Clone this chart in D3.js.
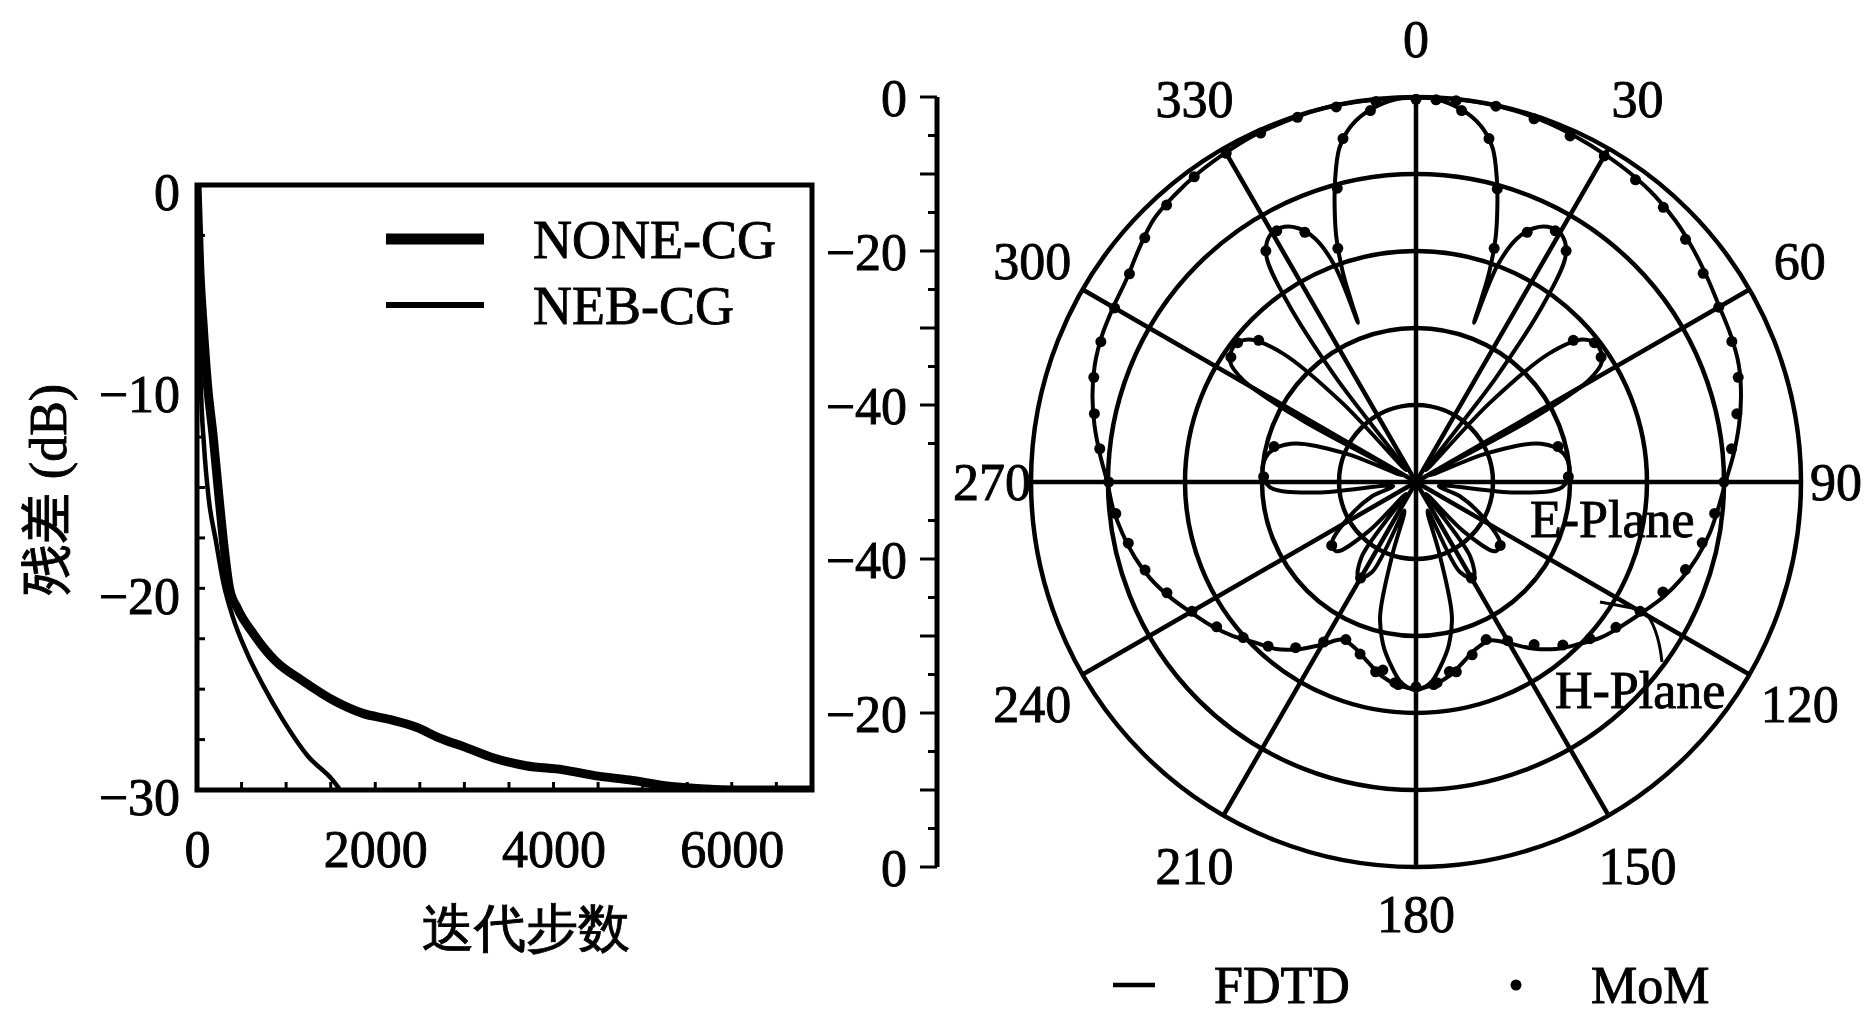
<!DOCTYPE html>
<html>
<head>
<meta charset="utf-8">
<script src="https://cdn.jsdelivr.net/npm/d3@7"></script>
<style>
  html, body { margin: 0; padding: 0; background: #fff; }
  svg { display: block; }
  text { font-family: "Liberation Serif", "DejaVu Serif", serif; fill: #000; stroke: #000; stroke-width: 0.9px; }
</style>
</head>
<body>
<svg id="chart" width="1876" height="1016"></svg>
<script>
// ---- residual chart data (iteration steps, dB) ----
const noneSteps = [0, 30, 70, 120, 180, 245, 305, 365, 455, 640, 880, 1190, 1550, 1860, 2160, 2470, 2710, 3020, 3320, 3690, 4110, 4480, 4850, 5270, 5700, 6000, 6900];
const noneDb = [0, -4, -7, -10, -12.4, -15.4, -18, -20, -21, -22.3, -23.6, -24.6, -25.6, -26.2, -26.5, -26.9, -27.4, -27.9, -28.4, -28.8, -29.0, -29.3, -29.5, -29.8, -29.95, -30, -30];
const nebSteps = [0, 20, 40, 80, 130, 210, 300, 400, 560, 740, 960, 1240, 1520, 1640];
const nebDb = [0, -5, -9.5, -13, -15.5, -17.6, -19.8, -21.4, -23.2, -24.8, -26.5, -28.3, -29.5, -30.2];
const xTickLabels = [0, 2000, 4000, 6000];
const yTickLabels = [0, -10, -20, -30];
const legendNames = ["NONE-CG", "NEB-CG"];

// ---- radiation pattern data (degrees, dB) ----
// broad pattern, FDTD every 5 deg
const eAngle = [0, 5, 10, 15, 20, 25, 30, 35, 40, 45, 50, 55, 60, 65, 70, 75, 80, 85, 90, 95, 100, 105, 110, 115, 120, 125, 130, 135, 140, 145, 150, 155, 160, 165, 170, 175, 180, 185, 190, 195, 200, 205, 210, 215, 220, 225, 230, 235, 240, 245, 250, 255, 260, 265, 270, 275, 280, 285, 290, 295, 300, 305, 310, 315, 320, 325, 330, 335, 340, 345, 350, 355];
const eDb = [-0.1, 0, 0, -0.1, -0.3, -0.6, -0.9, -1.2, -1.6, -2.2, -3.0, -3.8, -4.5, -4.9, -5.4, -6.3, -7.4, -8.6, -9.8, -10.6, -11.3, -12.2, -13.3, -14.6, -16.1, -17.4, -18.6, -20.2, -21.7, -23.6, -25.8, -27.3, -27.0, -25.9, -24.5, -23.6, -23.2, -23.5, -24.4, -25.8, -27.0, -27.4, -25.6, -23.5, -21.7, -20.5, -18.9, -17.5, -16.2, -14.7, -13.3, -12.2, -11.3, -10.5, -9.9, -8.8, -7.6, -6.5, -5.6, -5.0, -4.6, -4.1, -3.0, -1.8, -1.3, -0.9, -0.6, -0.3, -0.2, 0, 0, -0.1];
const eMomAngle = [0, 6, 12, 18, 24, 30, 36, 42, 48, 54, 60, 66, 72, 78, 84, 90, 96, 102, 108, 114, 120, 126, 132, 138, 144, 150, 156, 162, 168, 174, 180, 186, 192, 198, 204, 210, 216, 222, 228, 234, 240, 246, 252, 258, 264, 270, 276, 282, 288, 294, 300, 306, 312, 318, 324, 330, 336, 342, 348, 354];
const eMomDb = [-0.3, -0.2, -0.1, -0.4, -0.8, -1.1, -1.5, -2.0, -2.9, -3.9, -4.6, -5.1, -6.0, -7.4, -8.8, -10.0, -11.0, -12.0, -13.2, -14.9, -16.4, -17.9, -19.6, -21.5, -23.9, -26.2, -27.6, -26.4, -24.8, -23.8, -23.4, -23.8, -24.8, -26.5, -27.6, -26.0, -23.4, -21.3, -19.8, -18.0, -16.4, -14.6, -13.0, -11.8, -10.8, -10.1, -8.7, -7.3, -6.0, -5.2, -4.8, -4.0, -2.6, -1.6, -1.0, -0.7, -0.4, -0.2, -0.2, -0.3];
// lobed pattern, FDTD
const hAngle = [0, 4, 8, 11, 13, 15, 16.5, 18, 19.2, 19.7, 20, 20.6, 22.5, 25, 28, 31, 33.5, 35.5, 37.5, 39.5, 43, 46, 49.5, 53, 57, 59.5, 61.5, 64, 68, 73, 79, 86, 92, 96, 100, 108, 118, 126, 131, 136, 140, 144, 149, 154, 158, 162, 165, 168.5, 172.5, 176, 180, 184, 187.5, 191.5, 195, 198, 202, 206, 211, 216, 220, 224, 229, 234, 242, 252, 260, 264, 268, 274, 281, 287, 292, 296, 298.5, 300.5, 303, 307, 310.5, 314, 317, 320.5, 322.5, 324.5, 326.5, 329, 332, 335, 337.5, 339.4, 340, 340.3, 340.8, 342, 343.5, 345, 347, 349, 352, 356];
const hDb = [0, -0.4, -1.7, -3.5, -5.6, -9.4, -12.8, -16.5, -21, -25, -28, -20, -15.8, -13.6, -12.6, -12.9, -14.8, -21, -33, -48, -36, -26, -21.5, -20.5, -21.2, -24, -33, -48, -40, -33, -30.5, -30, -31, -37, -47, -44, -40, -36.5, -36.3, -41, -48, -38, -35.5, -37, -46, -40, -32, -28.5, -25.8, -23.8, -23, -23.8, -25.8, -28.5, -32, -40, -46, -37, -35.5, -38, -48, -41, -36.3, -36.5, -40, -44, -47, -37, -31, -30, -30.5, -33, -40, -48, -33, -24, -21.2, -20.5, -21.5, -26, -36, -48, -33, -21, -14.8, -12.9, -12.6, -13.6, -15.8, -20, -28, -25, -21, -16.5, -12.8, -9.4, -5.6, -3.5, -1.7, -0.4];
const hMomAngle = [3, 7, 12, 15.5, 18.5, 24, 29, 33, 48, 52, 56, 76, 88, 127, 150, 170, 175, 185, 190, 210, 233, 272, 284, 304, 308, 312, 327, 331, 336, 341.5, 345, 348, 353];
const hMomDb = [-0.3, -1.4, -4.4, -10.5, -18, -14.5, -12.7, -14.2, -22.5, -20.6, -21.0, -31, -30.2, -36.3, -35.6, -25, -23.6, -23.6, -25.2, -35.6, -36.3, -30.2, -31, -21.0, -20.6, -22.5, -14.2, -12.7, -14.5, -18, -10.5, -4.4, -1.4];
const ringDb = [-40, -30, -20, -10, 0];
const angleLabels = [0, 30, 60, 90, 120, 150, 180, 210, 240, 270, 300, 330];
const sideTickLabels = [0, -20, -40];
const patternNames = ["E-Plane", "H-Plane"];
const methodNames = ["FDTD", "MoM"];

const svg = d3.select("#chart");
const fontSize = 52;

function drawResidual() {
  const x = d3.scaleLinear().domain([0, 6900]).range([197, 812]);
  const y = d3.scaleLinear().domain([-30, 0]).range([790, 185]);

  svg.append("defs").append("clipPath").attr("id", "clip-res")
    .append("rect").attr("x", 197).attr("y", 185).attr("width", 615).attr("height", 605);

  // inward minor ticks
  const minorX = d3.range(500, 6900, 500);
  svg.append("g").selectAll("line").data(minorX).join("line")
    .attr("x1", d => x(d)).attr("x2", d => x(d))
    .attr("y1", 790).attr("y2", 782)
    .attr("stroke", "#000").attr("stroke-width", 3);
  const minorY = d3.range(-27.5, 0, 2.5);
  svg.append("g").selectAll("line").data(minorY).join("line")
    .attr("x1", 197).attr("x2", 205)
    .attr("y1", d => y(d)).attr("y2", d => y(d))
    .attr("stroke", "#000").attr("stroke-width", 3);

  // tick labels
  const xAxis = svg.append("g").attr("transform", "translate(0,790)")
    .call(d3.axisBottom(x).tickValues(xTickLabels).tickFormat(d3.format("d")).tickSize(0).tickPadding(40));
  const yAxis = svg.append("g").attr("transform", "translate(197,0)")
    .call(d3.axisLeft(y).tickValues(yTickLabels).tickSize(0).tickPadding(17));
  [xAxis, yAxis].forEach(a => {
    a.select(".domain").remove();
    a.selectAll("text").attr("font-family", "Liberation Serif").attr("font-size", fontSize);
  });
  yAxis.selectAll("text").attr("dy", "0.48em");

  // curves
  const line = d3.line().x(d => x(d[0])).y(d => y(d[1])).curve(d3.curveMonotoneX);
  const curves = svg.append("g").attr("clip-path", "url(#clip-res)");
  curves.append("path").datum(d3.zip(nebSteps, nebDb))
    .attr("d", line).attr("fill", "none").attr("stroke", "#000").attr("stroke-width", 4.5);
  curves.append("path").datum(d3.zip(noneSteps, noneDb))
    .attr("d", line).attr("fill", "none").attr("stroke", "#000").attr("stroke-width", 9);

  // frame
  svg.append("rect").attr("x", 197).attr("y", 185).attr("width", 615).attr("height", 605)
    .attr("fill", "none").attr("stroke", "#000").attr("stroke-width", 5);

  // legend
  const legend = svg.append("g");
  [11, 6].forEach((w, i) => {
    legend.append("line")
      .attr("x1", 386).attr("x2", 484)
      .attr("y1", 239 + i * 66).attr("y2", 239 + i * 66)
      .attr("stroke", "#000").attr("stroke-width", w);
    legend.append("text")
      .attr("x", 533).attr("y", 258 + i * 66)
      .attr("font-size", 54)
      .text(legendNames[i]);
  });

  // axis titles
  svg.append("text")
    .attr("x", 526).attr("y", 946)
    .attr("text-anchor", "middle")
    .attr("font-family", "Noto Sans CJK SC")
    .attr("font-size", 52)
    .text("迭代步数");
  svg.append("text")
    .attr("transform", "translate(66,490) rotate(-90)")
    .attr("text-anchor", "middle")
    .attr("font-size", 52)
    .html('<tspan font-family="Noto Sans CJK SC">残差</tspan> (dB)');
}

function drawPolar() {
  const cx = 1416, cy = 482, R = 385;
  const r = d3.scaleLinear().domain([-50, 0]).range([0, R]).clamp(true);
  const rad = a => a * Math.PI / 180;

  // side radial axis
  const axisX = 937;
  const up = d3.scaleLinear().domain([-50, 0]).range([cy, cy - R]);
  const down = d3.scaleLinear().domain([-50, 0]).range([cy, cy + R]);
  const side = svg.append("g");
  side.append("line").attr("x1", axisX).attr("x2", axisX)
    .attr("y1", up(0)).attr("y2", down(0))
    .attr("stroke", "#000").attr("stroke-width", 5);
  const tickDb = d3.range(-45, 1, 5);
  [up, down].forEach(s => {
    side.append("g").selectAll("line").data(tickDb).join("line")
      .attr("x1", d => axisX - (d % 10 === 0 ? 17 : 9)).attr("x2", axisX)
      .attr("y1", d => s(d)).attr("y2", d => s(d))
      .attr("stroke", "#000").attr("stroke-width", 3);
    const lab = side.append("g").attr("transform", `translate(${axisX},0)`)
      .call(d3.axisLeft(s).tickValues(sideTickLabels).tickSize(0).tickPadding(30));
    lab.select(".domain").remove();
    lab.selectAll("text").attr("font-family", "Liberation Serif").attr("font-size", fontSize).attr("dy", "0.36em");
  });

  const g = svg.append("g").attr("transform", `translate(${cx},${cy})`);

  // grid
  g.selectAll("circle.ring").data(ringDb).join("circle")
    .attr("class", "ring").attr("r", d => r(d))
    .attr("fill", "none").attr("stroke", "#000").attr("stroke-width", 4.5);
  g.selectAll("line.spoke").data(angleLabels).join("line")
    .attr("class", "spoke")
    .attr("x1", 0).attr("y1", 0)
    .attr("x2", d => R * Math.sin(rad(d))).attr("y2", d => -R * Math.cos(rad(d)))
    .attr("stroke", "#000").attr("stroke-width", 4.5);

  // angle labels: outside the rim, pulled in at the sides and bottom
  const labelR = 443;
  g.selectAll("text.ang").data(angleLabels).join("text")
    .attr("class", "ang")
    .attr("x", d => Math.max(-424, Math.min(labelR * Math.sin(rad(d)), 420)))
    .attr("y", d => Math.min(-labelR * Math.cos(rad(d)), 432))
    .attr("dy", "0.35em")
    .attr("text-anchor", "middle")
    .attr("font-size", fontSize)
    .text(d => d);

  // patterns
  const radial = d3.lineRadial()
    .angle(d => rad(d[0])).radius(d => r(d[1]))
    .curve(d3.curveCatmullRomClosed.alpha(0.5));
  g.append("path").datum(d3.zip(eAngle, eDb))
    .attr("d", radial).attr("fill", "none").attr("stroke", "#000").attr("stroke-width", 4);
  g.append("path").datum(d3.zip(hAngle, hDb))
    .attr("d", radial).attr("fill", "none").attr("stroke", "#000").attr("stroke-width", 4);

  const dots = d3.zip(eMomAngle, eMomDb).concat(d3.zip(hMomAngle, hMomDb));
  g.selectAll("circle.mom").data(dots).join("circle")
    .attr("class", "mom")
    .attr("cx", d => r(d[1]) * Math.sin(rad(d[0])))
    .attr("cy", d => -r(d[1]) * Math.cos(rad(d[0])))
    .attr("r", 5.5).attr("fill", "#000");

  // plane labels
  svg.append("text").attr("x", 1530).attr("y", 537).attr("font-size", fontSize).text(patternNames[0]);
  svg.append("text").attr("x", 1555).attr("y", 708).attr("font-size", fontSize).text(patternNames[1]);
  svg.append("path").attr("d", "M1600,602 L1643,610 Q1658,625 1662,662")
    .attr("fill", "none").attr("stroke", "#000").attr("stroke-width", 3);

  // method legend
  svg.append("line").attr("x1", 1113).attr("x2", 1155).attr("y1", 985).attr("y2", 985)
    .attr("stroke", "#000").attr("stroke-width", 4.5);
  svg.append("text").attr("x", 1214).attr("y", 1003).attr("font-size", fontSize).text(methodNames[0]);
  svg.append("circle").attr("cx", 1516).attr("cy", 985).attr("r", 5.5).attr("fill", "#000");
  svg.append("text").attr("x", 1591).attr("y", 1003).attr("font-size", fontSize).text(methodNames[1]);
}

drawResidual();
drawPolar();
</script>
</body>
</html>
